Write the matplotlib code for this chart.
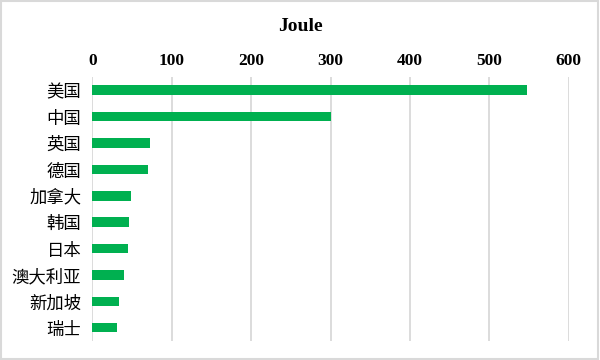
import matplotlib
matplotlib.use('Agg')
import matplotlib.pyplot as plt
from matplotlib.patches import Rectangle

# country names and values
countries = ['美国', '中国', '英国', '德国', '加拿大', '韩国', '日本', '澳大利亚', '新加坡', '瑞士']
values = [547, 301, 72, 70, 48, 46, 45, 40, 34, 31]
xticks = [0, 100, 200, 300, 400, 500, 600]

plt.rcParams['font.family'] = ['Liberation Serif', 'Noto Sans CJK SC', 'DejaVu Sans']

fig = plt.figure(figsize=(6, 3.6), dpi=100)
ax = fig.add_axes([0.154, 0.053, 0.794, 0.733])

ypos = list(range(len(countries)))
ax.barh(ypos, values, height=0.36, color='#00B050', zorder=3)

ax.set_xlim(0, 600)
ax.set_ylim(len(countries) - 0.5, -0.5)
ax.set_xticks(xticks)
ax.set_xticklabels([str(t) for t in xticks], fontsize=12.5, fontweight='bold',
                   family=['Liberation Serif'])
ax.set_yticks(ypos)
ax.set_yticklabels(countries, fontsize=12.5, family=['Noto Sans CJK SC'])
ax.xaxis.tick_top()
ax.tick_params(axis='both', length=0)
ax.tick_params(axis='x', pad=6)
ax.tick_params(axis='y', pad=8)
ax.grid(axis='x', color='#d9d9d9', linewidth=1.3, zorder=0)
for s in ax.spines.values():
    s.set_visible(False)

fig.text(0.5, 0.927, 'Joule', ha='center', va='center', fontsize=14,
         fontweight='bold', family=['Liberation Serif'])

# light frame around the chart area
fig.patches.append(Rectangle((0.002, 0.003), 0.995, 0.993, transform=fig.transFigure,
                             fill=False, edgecolor='#d9d9d9', linewidth=1.5))

fig.savefig('out.png', dpi=100)
